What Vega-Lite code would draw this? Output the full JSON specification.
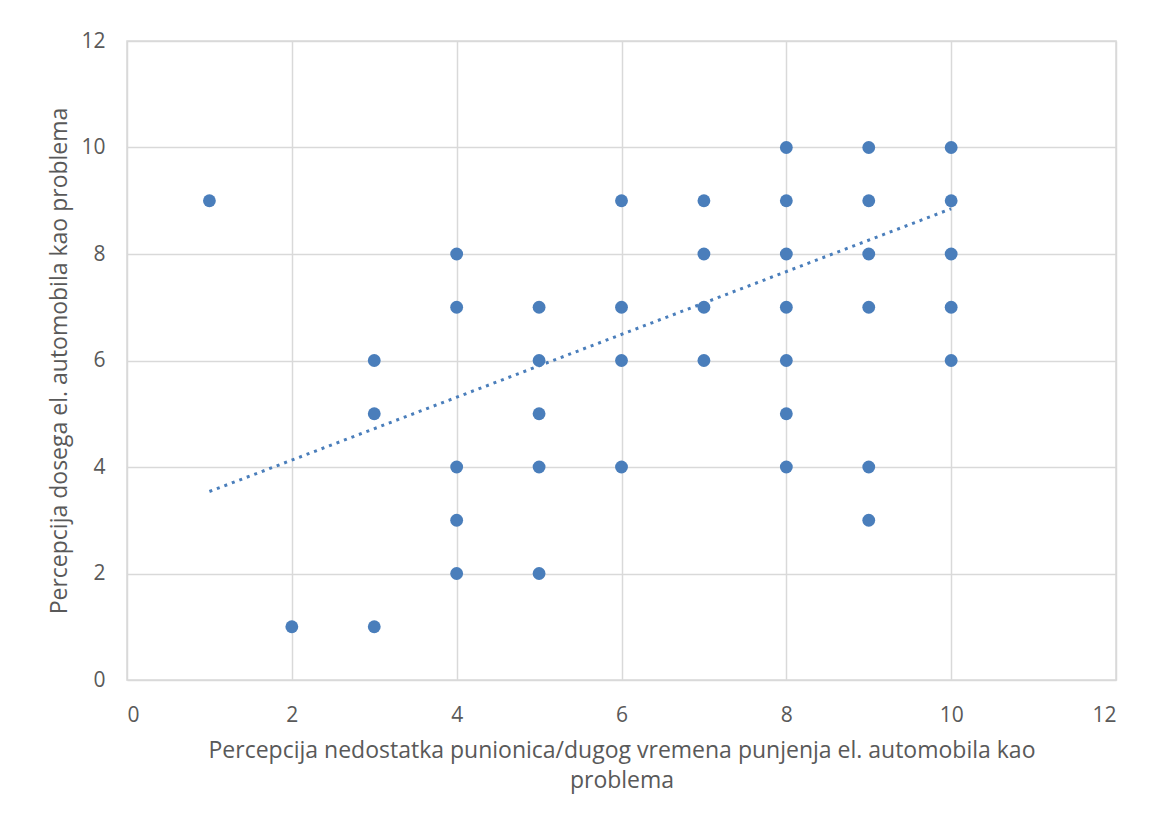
{
  "$schema": "https://vega.github.io/schema/vega-lite/v6.json",
  "autosize": {"type": "none"},
  "width": 989,
  "height": 639,
  "padding": {"left": 127, "top": 41, "right": 35, "bottom": 143},
  "background": "white",
  "config": {
    "font": "Open Sans",
    "view": {"stroke": "#d9d9d9", "strokeWidth": 1.5},
    "axis": {
      "gridColor": "#d9d9d9",
      "gridWidth": 1.5,
      "domain": false,
      "ticks": false,
      "labelFont": "Open Sans",
      "labelFontSize": 21,
      "labelColor": "#595959",
      "titleFont": "Open Sans",
      "titleFontSize": 23,
      "titleFontWeight": "normal",
      "titleColor": "#595959"
    }
  },
  "datasets": {
    "points": [
      {"x": 1, "y": 9},
      {"x": 2, "y": 1},
      {"x": 3, "y": 6}, {"x": 3, "y": 5}, {"x": 3, "y": 1},
      {"x": 4, "y": 8}, {"x": 4, "y": 7}, {"x": 4, "y": 4}, {"x": 4, "y": 3}, {"x": 4, "y": 2},
      {"x": 5, "y": 7}, {"x": 5, "y": 6}, {"x": 5, "y": 5}, {"x": 5, "y": 4}, {"x": 5, "y": 2},
      {"x": 6, "y": 9}, {"x": 6, "y": 7}, {"x": 6, "y": 6}, {"x": 6, "y": 4},
      {"x": 7, "y": 9}, {"x": 7, "y": 8}, {"x": 7, "y": 7}, {"x": 7, "y": 6},
      {"x": 8, "y": 10}, {"x": 8, "y": 9}, {"x": 8, "y": 8}, {"x": 8, "y": 7}, {"x": 8, "y": 6}, {"x": 8, "y": 5}, {"x": 8, "y": 4},
      {"x": 9, "y": 10}, {"x": 9, "y": 9}, {"x": 9, "y": 8}, {"x": 9, "y": 7}, {"x": 9, "y": 4}, {"x": 9, "y": 3},
      {"x": 10, "y": 10}, {"x": 10, "y": 9}, {"x": 10, "y": 8}, {"x": 10, "y": 7}, {"x": 10, "y": 6}
    ],
    "trend": [
      {"x": 1, "y": 3.54},
      {"x": 10, "y": 8.85}
    ]
  },
  "encoding": {
    "x": {
      "field": "x",
      "type": "quantitative",
      "scale": {"domain": [0, 12], "nice": false, "zero": true},
      "axis": {
        "values": [0, 2, 4, 6, 8, 10, 12],
        "labelPadding": 24,
        "titlePadding": 14,
        "title": ["Percepcija nedostatka punionica/dugog vremena punjenja el. automobila kao", "problema"],
        "titleLineHeight": 30
      }
    },
    "y": {
      "field": "y",
      "type": "quantitative",
      "scale": {"domain": [0, 12], "nice": false},
      "axis": {
        "values": [0, 2, 4, 6, 8, 10, 12],
        "labelPadding": 22,
        "titlePadding": 9,
        "title": "Percepcija dosega el. automobila kao problema"
      }
    }
  },
  "layer": [
    {
      "data": {"name": "trend"},
      "mark": {"type": "line", "color": "#4a7ebb", "strokeWidth": 3, "strokeDash": [3, 5]}
    },
    {
      "data": {"name": "points"},
      "mark": {"type": "circle", "color": "#4a7ebb", "opacity": 1, "size": 165}
    }
  ]
}
